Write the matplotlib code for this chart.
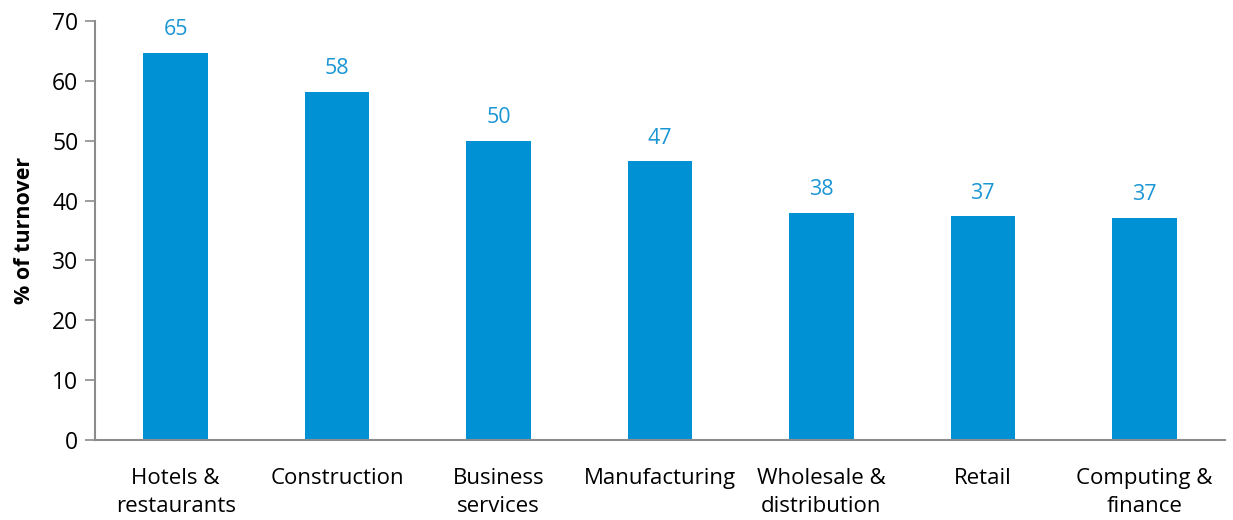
import matplotlib.pyplot as plt

plt.rcParams['font.family'] = ['Open Sans', 'DejaVu Sans']

sectors = ['Hotels &\nrestaurants', 'Construction', 'Business\nservices', 'Manufacturing',
           'Wholesale &\ndistribution', 'Retail', 'Computing &\nfinance']
turnover = [64.7, 58.2, 50.0, 46.6, 38.0, 37.4, 37.1]
yticks = [0, 10, 20, 30, 40, 50, 60, 70]

bar_col = '#0091d5'
label_col = '#1b96d4'
axis_col = '#8c8c8c'

fig = plt.figure(figsize=(12.33, 5.2), dpi=100)
ax = fig.add_axes([95 / 1233, 80 / 520, 1130 / 1233, 419 / 520])

x = range(len(sectors))
bars = ax.bar(x, turnover, width=0.4, color=bar_col, zorder=2)

# value labels above each bar
for b, v in zip(bars, turnover):
    ax.annotate(f'{v:.0f}', (b.get_x() + b.get_width() / 2, v),
                xytext=(0, 9), textcoords='offset points',
                ha='center', va='bottom', color=label_col, fontsize=15.5)

ax.set_xlim(-0.5, len(sectors) - 0.5)
ax.set_ylim(0, 70)
ax.set_yticks(yticks)
ax.set_xticks(list(x))
ax.set_xticklabels(sectors, fontsize=16, linespacing=1.45)
ax.tick_params(axis='y', labelsize=16.5, length=7, width=1.2, color=axis_col, pad=5)
ax.tick_params(axis='x', length=0, pad=20)
ax.set_ylabel('% of turnover', fontsize=15.5, fontweight='bold', labelpad=12)

for s in ['top', 'right']:
    ax.spines[s].set_visible(False)
for s in ['left', 'bottom']:
    ax.spines[s].set_color(axis_col)
    ax.spines[s].set_linewidth(1.5)

fig.savefig('out.png', dpi=100)
